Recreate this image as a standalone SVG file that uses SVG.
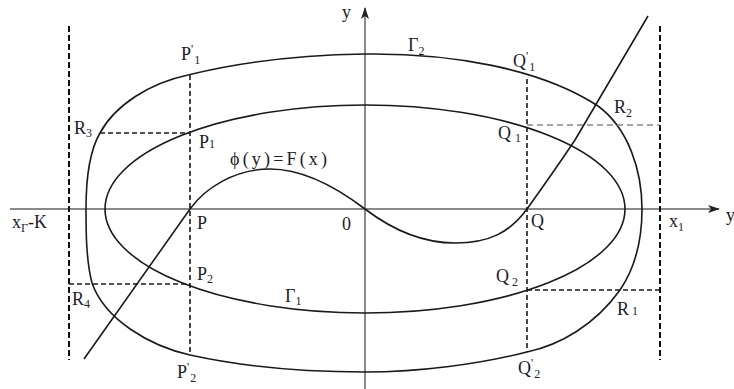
<svg xmlns="http://www.w3.org/2000/svg" width="734" height="389" viewBox="0 0 734 389">
<defs>
<style>
.axis{stroke:#8a8a8a;stroke-width:2;fill:none}
.curve{stroke:#1a1a1a;stroke-width:1.6;fill:none}
.dash{stroke:#1a1a1a;stroke-width:1.6;stroke-dasharray:5 3;fill:none}
.dashg{stroke:#888;stroke-width:1.6;stroke-dasharray:6 4;fill:none}
.dashv{stroke:#111;stroke-width:2;stroke-dasharray:6 3;fill:none}
text{font-family:"Liberation Serif","DejaVu Serif",serif;font-size:18px;fill:#1c1c2a}
.sub{font-size:12px}
</style>
<marker id="arr" viewBox="0 0 12 8" refX="11" refY="4" markerWidth="12" markerHeight="8" markerUnits="userSpaceOnUse" orient="auto">
<path d="M0,0 L12,4 L0,8 L3,4 Z" fill="#222"/>
</marker>
</defs>
<rect width="734" height="389" fill="#fff"/>
<g id="axes">
<line class="axis" x1="10" y1="209" x2="719" y2="209" marker-end="url(#arr)"/>
<line class="axis" x1="365" y1="389" x2="365" y2="8" marker-end="url(#arr)"/>
</g>
<g id="gamma1">
<ellipse class="curve" cx="365" cy="209" rx="260" ry="104"/>
</g>
<g id="gamma2">
<path class="curve" d="M365,54 C450,53 540,68 598,106 C628,128 642,170 642,209 C642,240 635,268 620,290 C595,325 560,345 527,352 C480,364 420,372 365,372 C300,372 240,366 190,355 C150,346 105,320 92,283 C86,260 86,230 86,209 C86,180 90,150 100,133 C115,105 150,83 188,75 C240,62 300,55 365,54 Z"/>
</g>
<g id="phi-curve">
<path class="curve" d="M84,359 L190,209 C205,188 235,169 270,169 C305,169 340,190 365,209 C390,228 420,243 455,243 C490,243 510,232 527,209 C537,195 555,170 575,140 L648,16"/>
</g>
<g id="connectors">
<line class="dashv" x1="69" y1="26" x2="69" y2="360"/>
<line class="dashv" x1="660" y1="26" x2="660" y2="360"/>
<line class="dash" x1="190" y1="75" x2="190" y2="355"/>
<line class="dash" x1="527" y1="79" x2="527" y2="352"/>
<line class="dash" x1="100" y1="133" x2="190" y2="133"/>
<line class="dashg" x1="527" y1="125" x2="660" y2="125"/>
<line class="dash" x1="69" y1="284" x2="190" y2="284"/>
<line class="dash" x1="527" y1="290" x2="660" y2="290"/>
</g>
<g id="labels">
<text x="342" y="18">y</text>
<text x="726" y="221">y</text>
<text x="408" y="51">Γ<tspan class="sub" dy="4">2</tspan></text>
<text x="181" y="60">P<tspan class="sub" dy="-7">'</tspan><tspan class="sub" dx="1" dy="11">1</tspan></text>
<text x="513" y="67">Q<tspan class="sub" dy="-7">'</tspan><tspan class="sub" dx="1" dy="11">1</tspan></text>
<text x="74" y="134">R<tspan class="sub" dy="3">3</tspan></text>
<text x="199" y="148">P<tspan class="sub" dy="0">1</tspan></text>
<text x="498" y="139">Q<tspan class="sub" dx="4" dy="3">1</tspan></text>
<text x="614" y="113">R<tspan class="sub" dy="4">2</tspan></text>
<text x="230" y="165" textLength="97" lengthAdjust="spacing">ϕ(y)=F(x)</text>
<text x="12" y="228">x<tspan class="sub" dy="4">Γ</tspan><tspan dy="-4">-K</tspan></text>
<text x="197" y="229">P</text>
<text x="342" y="230">0</text>
<text x="531" y="227">Q</text>
<text x="669" y="227">x<tspan class="sub" dy="4">1</tspan></text>
<text x="197" y="280">P<tspan class="sub" dy="3">2</tspan></text>
<text x="285" y="302">Γ<tspan class="sub" dy="3">1</tspan></text>
<text x="496" y="282">Q<tspan class="sub" dx="3" dy="4">2</tspan></text>
<text x="617" y="315">R<tspan class="sub" dx="3">1</tspan></text>
<text x="72" y="305">R<tspan class="sub" dy="3">4</tspan></text>
<text x="177" y="378">P<tspan class="sub" dy="-7">'</tspan><tspan class="sub" dx="1" dy="11">2</tspan></text>
<text x="518" y="374">Q<tspan class="sub" dy="-7">'</tspan><tspan class="sub" dx="1" dy="11">2</tspan></text>
</g>
</svg>
